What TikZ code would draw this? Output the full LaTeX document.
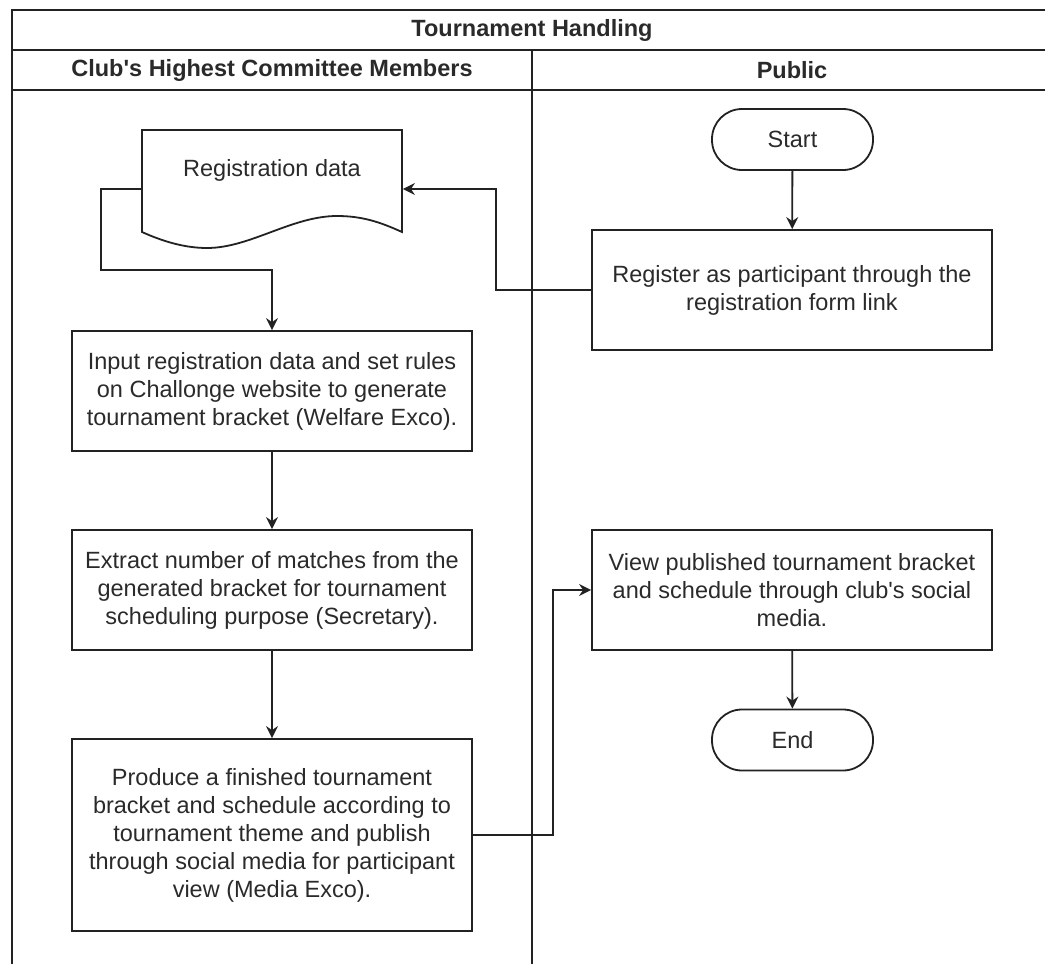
\documentclass[tikz,border=0pt]{standalone}
\usepackage{fontspec}
\setmainfont{Liberation Sans}
\usepackage{tikz}
\usetikzlibrary{arrows.meta,positioning}
\definecolor{laneink}{HTML}{222222}
\definecolor{textink}{HTML}{2A2A2A}

\begin{document}
\begin{tikzpicture}[x=1pt, y=-1pt, line cap=butt, line join=miter,
  line width=1.8pt, draw=laneink,
  font=\fontsize{23.5}{28}\selectfont,
  >={Stealth[length=12pt,width=12pt,inset=4pt]},
  every node/.style={inner sep=2pt, text=textink},
  lanehead/.style={font=\fontsize{23.5}{28}\selectfont\bfseries},
  stepbox/.style={draw=laneink, align=center, minimum width=400,
    minimum height=120},
  terminal/.style={draw=laneink, rounded corners=30, minimum width=161,
    minimum height=61},
  docbox/.style={minimum width=260, minimum height=118}]
  \path[use as bounding box] (0,0) rectangle (1045,964);
  % 1 unit = 1px of the sketch, y grows downward. Pool runs off the right edge.
  \draw (12,964)--(12,10)--(1052,10);
  \draw (12,50)--(1052,50);
  \draw (12,90)--(1052,90);
  \draw (532,50)--(532,964);
  \node[lanehead] (pool) at (532,30) {Tournament Handling};
  \node[lanehead] (committee) at (272,70) {Club\textquotesingle s Highest Committee Members};
  \node[lanehead] (public) at (792,70) {Public};
  % Public lane
  \node[terminal] (start) at (792.5,139.5) {Start};
  \node[stepbox] (register) at (792,290)
    {Register as participant through the\\registration form link};
  \node[stepbox] (view) at (792,590)
    {View published tournament bracket\\and schedule through club\textquotesingle s social\\media.};
  \node[terminal] (stop) at (792.5,740) {End};
  % Committee lane
  \node[docbox, label={[name=doctext, yshift=19pt]center:Registration data}]
    (doc) at (272,189) {};
  \draw (142,130)--(402,130)--(402,232)
    .. controls (380,222) and (362,216) .. (337,216)
    .. controls (292,216) and (250,248) .. (207,248)
    .. controls (184,248) and (162,241) .. (142,232)--cycle;
  \node[stepbox] (input) at (272,391)
    {Input registration data and set rules\\on Challonge website to generate\\tournament bracket (Welfare Exco).};
  \node[stepbox] (extract) at (272,590)
    {Extract number of matches from the\\generated bracket for tournament\\scheduling purpose (Secretary).};
  \node[stepbox, minimum height=192] (produce) at (272,835)
    {Produce a finished tournament\\bracket and schedule according to\\tournament theme and publish\\through social media for participant\\view (Media Exco).};
  % connectors
  \draw[->] (start) -- (register);
  \draw[->] (register.west) -- ++(-95,0) |- (doc.east);
  \draw[->] (doc.west) -- ++(-40,0) -- ++(0,81) -| (input.north);
  \draw[->] (input) -- (extract);
  \draw[->] (extract) -- (produce);
  \draw[->] (produce.east) -- ++(80,0) |- (view.west);
  \draw[->] (view) -- (stop);
\end{tikzpicture}
\end{document}
